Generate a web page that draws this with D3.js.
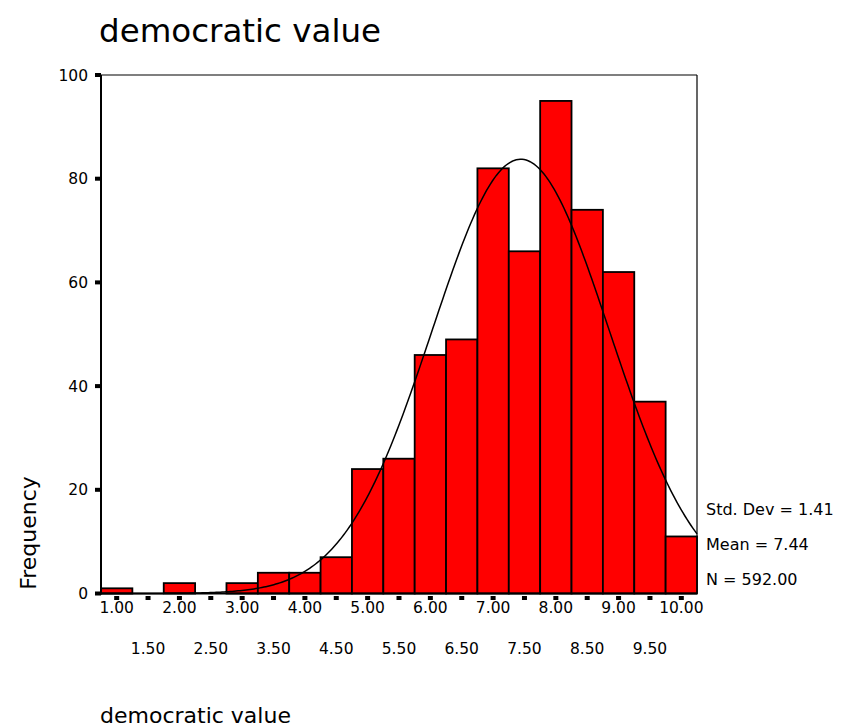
<!DOCTYPE html>
<html>
<head>
<meta charset="utf-8">
<script src="https://cdn.jsdelivr.net/npm/d3@7"></script>
<style>
  html, body { margin: 0; padding: 0; background: #fff; }
  svg { display: block; }
  text { font-family: "DejaVu Sans", Verdana, sans-serif; fill: #000; }
</style>
</head>
<body>
<div id="chart"></div>
<script>
// ---- data ----
const binCenters = [1.0, 1.5, 2.0, 2.5, 3.0, 3.5, 4.0, 4.5, 5.0, 5.5, 6.0, 6.5, 7.0, 7.5, 8.0, 8.5, 9.0, 9.5, 10.0];
const frequencies = [1, 0, 2, 0, 2, 4, 4, 7, 24, 26, 46, 49, 82, 66, 95, 74, 62, 37, 11];
const binWidth = 0.5;
const yTicks = [0, 20, 40, 60, 80, 100];
const xTickLabels = ["1.00","1.50","2.00","2.50","3.00","3.50","4.00","4.50","5.00","5.50","6.00","6.50","7.00","7.50","8.00","8.50","9.00","9.50","10.00"];
const stats = { sd: 1.41, mean: 7.44, n: 592 };
const statLabels = ["Std. Dev = 1.41", "Mean = 7.44", "N = 592.00"];
const chartTitle = "democratic value";
const xTitle = "democratic value";
const yTitle = "Frequency";

// ---- layout ----
const W = 847, H = 727;
const pLeft = 101, pRight = 697, pTop = 75, pBottom = 593.5;

const svg = d3.select("#chart").append("svg").attr("width", W).attr("height", H);

const x = d3.scaleLinear()
  .domain([binCenters[0] - binWidth / 2, binCenters[binCenters.length - 1] + binWidth / 2])
  .range([pLeft, pRight]);
const y = d3.scaleLinear().domain([0, 100]).range([pBottom, pTop]);

// title
svg.append("text").attr("x", 99).attr("y", 42)
  .style("font-size", "32.5px").text(chartTitle);

// frame top/right
svg.append("line").attr("x1", pLeft).attr("x2", pRight).attr("y1", pTop).attr("y2", pTop)
  .attr("stroke", "#000").attr("stroke-width", 1.2);
svg.append("line").attr("x1", pRight).attr("x2", pRight).attr("y1", pTop).attr("y2", pBottom)
  .attr("stroke", "#000").attr("stroke-width", 1.2);

// bars
svg.append("g").selectAll("rect").data(binCenters.map((c, i) => ({ c, f: frequencies[i] })))
  .join("rect")
  .attr("x", d => x(d.c - binWidth / 2))
  .attr("width", d => x(d.c + binWidth / 2) - x(d.c - binWidth / 2))
  .attr("y", d => y(d.f))
  .attr("height", d => y(0) - y(d.f))
  .attr("fill", d => d.f > 0 ? "#ff0000" : "none")
  .attr("stroke", d => d.f > 0 ? "#000" : "none")
  .attr("stroke-width", 1.8);

// normal curve (fitted from the stated mean / std. dev / N)
const pdf = v => stats.n * binWidth / (stats.sd * Math.sqrt(2 * Math.PI)) *
  Math.exp(-0.5 * Math.pow((v - stats.mean) / stats.sd, 2));
const [d0, d1] = x.domain();
const pts = d3.range(0, 301).map(i => d0 + (d1 - d0) * i / 300);
svg.append("path")
  .datum(pts)
  .attr("d", d3.line().x(v => x(v)).y(v => y(pdf(v))))
  .attr("fill", "none").attr("stroke", "#000").attr("stroke-width", 1.5);

// axes lines
svg.append("line").attr("x1", pLeft).attr("x2", pLeft).attr("y1", pTop).attr("y2", pBottom + 1)
  .attr("stroke", "#000").attr("stroke-width", 2);
svg.append("line").attr("x1", pLeft - 1).attr("x2", pRight).attr("y1", pBottom).attr("y2", pBottom)
  .attr("stroke", "#000").attr("stroke-width", 2);

// y ticks
const yt = svg.append("g");
yt.selectAll("rect").data(yTicks).join("rect")
  .attr("x", pLeft - 6).attr("y", d => y(d) - 2).attr("width", 6).attr("height", 4).attr("fill", "#000");
yt.selectAll("text").data(yTicks).join("text")
  .attr("x", 88).attr("y", d => y(d)).attr("dy", "0.36em")
  .attr("text-anchor", "end").style("font-size", "15.5px").text(d => d);

// x ticks
const xt = svg.append("g");
xt.selectAll("rect").data(binCenters).join("rect")
  .attr("x", d => x(d) - 2.5).attr("y", 596).attr("width", 5).attr("height", 4).attr("fill", "#000");
xt.selectAll("text").data(binCenters).join("text")
  .attr("x", d => x(d))
  .attr("y", (d, i) => i % 2 === 0 ? 613 : 653.5)
  .attr("text-anchor", "middle").style("font-size", "15.5px")
  .text((d, i) => xTickLabels[i]);

// stats legend
svg.append("g").selectAll("text").data(statLabels).join("text")
  .attr("x", 706).attr("y", (d, i) => 515 + i * 35)
  .style("font-size", "16px").text(d => d);

// axis titles
svg.append("text").attr("x", 100).attr("y", 723)
  .style("font-size", "22px").text(xTitle);
svg.append("text")
  .attr("transform", "translate(36,533) rotate(-90)")
  .attr("text-anchor", "middle")
  .style("font-size", "22px").text(yTitle);
</script>
</body>
</html>
